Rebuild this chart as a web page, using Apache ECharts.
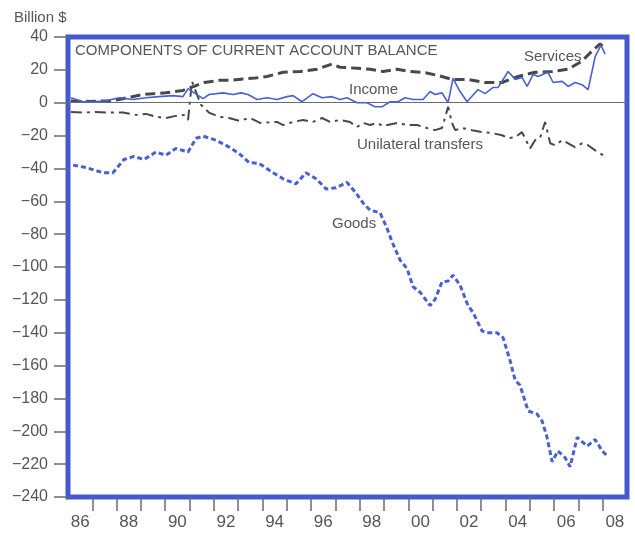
<!DOCTYPE html>
<html>
<head>
<meta charset="utf-8">
<script src="https://cdn.jsdelivr.net/npm/echarts@6/dist/echarts.min.js"></script>
<style>
html,body{margin:0;padding:0;background:#fff;}
#chart{width:635px;height:538px;}
</style>
</head>
<body>
<div id="chart"></div>
<script>
// Tick label text for even years (placed at mid-year)
var labelYears = [1986,1988,1990,1992,1994,1996,1998,2000,2002,2004,2006,2008];
var yearLabels = ['86','88','90','92','94','96','98','00','02','04','06','08'];
// Year boundaries drawn as ticks (inner ones; frame covers 1986 and 2009)
var tickYears = [1987,1988,1989,1990,1991,1992,1993,1994,1995,1996,1997,1998,1999,2000,2001,2002,2003,2004,2005,2006,2007,2008];

// Series: [decimal year, billion $]
var goods = [
  [1986.21,-38],[1986.74,-39.5],[1987.44,-42.6],[1987.85,-42.6],[1988.30,-34.6],[1988.72,-32.7],
  [1989.13,-34.6],[1989.62,-30],[1990.03,-32],[1990.44,-27.8],[1990.94,-30],[1991.27,-21.6],
  [1991.56,-20.4],[1992.09,-22.8],[1992.63,-27],[1993.04,-30.9],[1993.45,-36.4],[1993.86,-37],
  [1994.44,-42.6],[1994.85,-46.3],[1995.38,-49.4],[1995.79,-42.6],[1996.21,-46.3],[1996.62,-52.5],
  [1997.03,-51.8],[1997.48,-48.5],[1997.85,-55],[1998.14,-61],[1998.43,-65.4],[1998.84,-67],
  [1999.13,-76.5],[1999.33,-84.6],[1999.66,-95.7],[1999.95,-101],[2000.20,-112],[2000.49,-115.4],
  [2000.90,-123.5],[2001.10,-119.8],[2001.39,-109],[2001.64,-108.6],[2001.84,-105],[2002.13,-111],
  [2002.46,-123.5],[2002.67,-127.8],[2003.04,-139],[2003.24,-140],[2003.65,-140],[2003.90,-143],
  [2004.19,-157],[2004.40,-169],[2004.60,-172],[2004.93,-187.6],[2005.30,-189.5],[2005.51,-193.8],
  [2005.71,-203.7],[2005.92,-218.5],[2006.16,-212],[2006.45,-216],[2006.66,-221.6],[2006.95,-203.7],
  [2007.36,-209],[2007.69,-205],[2007.98,-212],[2008.18,-214.8]
];

var services = [
  [1986.12,1],[1986.91,0.8],[1987.73,1.2],[1988.10,2],[1988.59,3.5],[1989.09,5],[1990.03,6],
  [1990.73,7.5],[1991.19,10],[1991.60,12.3],[1992.21,13.6],[1992.71,13.6],[1993.20,14.5],
  [1993.70,15],[1994.19,16],[1994.85,18.5],[1995.55,19],[1996.25,20.4],[1996.86,23.5],
  [1997.19,21.6],[1997.89,21],[1998.43,20.4],[1998.96,19],[1999.54,20.4],[2000.07,19],
  [2000.61,18.5],[2001.19,16.7],[2001.80,14.2],[2002.46,14.2],[2003.16,12.3],[2003.86,12.3],
  [2004.52,16],[2005.22,18.5],[2005.92,19],[2006.58,20.4],[2007.15,25.3],[2007.56,31.5],
  [2007.89,35.8],[2008.02,34]
];

var income = [
  [1986.12,3],[1986.62,0.6],[1987.03,0.6],[1987.56,1.2],[1988.10,3],[1988.67,2],[1989.21,3],
  [1989.74,3.7],[1990.32,4.3],[1990.73,3.7],[1990.94,8.6],[1991.19,6],[1991.56,2.5],[1991.80,5],
  [1992.38,6],[1992.79,5],[1993.12,6],[1993.41,5],[1993.78,2],[1994.19,3],[1994.60,2],[1995.01,3.7],
  [1995.26,4.3],[1995.63,0.6],[1996.08,5.5],[1996.45,3],[1996.86,3.7],[1997.19,2],[1997.48,3],
  [1997.89,0],[1998.30,0],[1998.63,-2.5],[1998.92,-2.5],[1999.25,0.6],[1999.58,0.6],[1999.87,3],
  [2000.20,2],[2000.61,2],[2000.90,6.8],[2001.10,5],[2001.39,6],[2001.64,0],[2001.84,14.8],
  [2002.13,6.8],[2002.42,0.6],[2002.87,8],[2003.16,5.5],[2003.49,9.3],[2003.70,9.3],[2004.11,19],
  [2004.40,14.2],[2004.68,15.4],[2004.89,9.9],[2005.14,17.3],[2005.34,16],[2005.75,18.5],
  [2005.96,12.3],[2006.33,13],[2006.58,9.9],[2006.86,12.3],[2007.15,11],[2007.40,8],[2007.69,28],
  [2007.93,35],[2008.10,29.6]
];

var transfers = [
  [1986.12,-5.6],[1986.62,-6],[1987.15,-5.6],[1987.69,-6],[1988.26,-6],[1988.80,-7.4],[1989.21,-6.8],
  [1989.62,-8.6],[1990.03,-9.3],[1990.44,-8],[1990.77,-7.4],[1990.94,-10.5],[1991.10,13],[1991.47,-1.2],
  [1991.80,-6],[1992.21,-8.6],[1992.63,-9.3],[1993.04,-11],[1993.49,-9.3],[1993.90,-12.3],[1994.60,-11.7],
  [1994.85,-13.6],[1995.26,-11.7],[1995.67,-10.5],[1996.08,-11.7],[1996.45,-9.3],[1996.78,-11.7],
  [1997.19,-10.5],[1997.60,-11.7],[1997.89,-14.8],[1998.14,-12.3],[1998.43,-13.6],[1998.72,-12.3],
  [1998.96,-14.2],[1999.54,-12.3],[1999.95,-13.6],[2000.36,-13.6],[2000.77,-15.4],[2001.10,-16.7],
  [2001.39,-15.4],[2001.64,-2.5],[2001.80,-12.3],[2001.93,-16.7],[2002.21,-15.4],[2002.63,-16.7],
  [2003.04,-17.9],[2003.45,-18.5],[2003.86,-19.8],[2004.11,-21.6],[2004.40,-21],[2004.68,-17.9],
  [2005.01,-27.8],[2005.22,-22.8],[2005.42,-21.6],[2005.63,-11.7],[2005.84,-24.7],[2006.04,-25.9],
  [2006.33,-22.8],[2006.58,-24.7],[2006.86,-27],[2007.15,-24.7],[2007.40,-25.9],[2007.69,-29],
  [2008.02,-32]
];

var FONT = "'Liberation Sans', Arial, Helvetica, sans-serif";
var TEXT = '#55555f';
var FRAME = '#4459cc';
var BLUE = '#4a60d2';
var DARK = '#47474f';

var labelValues = labelYears.map(function (y) { return y + 0.5; });

var chart = echarts.init(document.getElementById('chart'), null, {renderer: 'canvas'});

chart.setOption({
  animation: false,
  backgroundColor: '#ffffff',
  textStyle: {fontFamily: FONT},
  grid: {
    left: 68, right: 8, top: 37, bottom: 41,
    show: true, borderColor: FRAME, borderWidth: 5, backgroundColor: 'transparent',
    containLabel: false
  },
  xAxis: {
    type: 'value',
    min: 1986, max: 2009, interval: 1,
    position: 'bottom',
    axisLine: {show: false, onZero: false},
    axisTick: {show: true, customValues: tickYears, length: 14, lineStyle: {color: '#6a6a72', width: 1.5}},
    axisLabel: {
      customValues: labelValues, margin: 17, fontSize: 17, color: TEXT, fontFamily: FONT,
      showMinLabel: true, showMaxLabel: true,
      formatter: function (v) {
        var i = labelValues.indexOf(v);
        return i >= 0 ? yearLabels[i] : '';
      }
    },
    splitLine: {show: false}
  },
  yAxis: {
    type: 'value',
    min: -240, max: 40, interval: 20,
    axisLine: {show: false},
    axisTick: {show: true, length: 14, lineStyle: {color: '#6a6a72', width: 1.5}},
    axisLabel: {
      margin: 20, fontSize: 16, color: TEXT, fontFamily: FONT,
      formatter: function (v) { return String(v).replace('-', '\u2212'); }
    },
    splitLine: {show: false}
  },
  series: [
    {
      name: 'Goods', type: 'line', data: goods,
      showSymbol: false, symbol: 'none',
      lineStyle: {color: BLUE, width: 3, type: [5, 3]},
      markLine: {
        silent: true, symbol: ['none', 'none'], label: {show: false},
        lineStyle: {color: '#6a6a72', width: 1.2, type: 'solid'},
        data: [{yAxis: 0}]
      },
      z: 3
    },
    {
      name: 'Unilateral transfers', type: 'line', data: transfers,
      showSymbol: false, symbol: 'none',
      lineStyle: {color: DARK, width: 2, type: [11, 5, 3, 5]},
      z: 3
    },
    {
      name: 'Services', type: 'line', data: services,
      showSymbol: false, symbol: 'none',
      lineStyle: {color: DARK, width: 3, type: [10, 5]},
      z: 4
    },
    {
      name: 'Income', type: 'line', data: income,
      showSymbol: false, symbol: 'none',
      lineStyle: {color: BLUE, width: 1.6, type: 'solid'},
      z: 5
    }
  ],
  graphic: [
    {type: 'text', left: 14, top: 10, style: {text: 'Billion $', fontSize: 15, fill: TEXT, fontFamily: FONT}},
    {type: 'text', left: 75, top: 43, style: {text: 'COMPONENTS OF CURRENT ACCOUNT BALANCE', fontSize: 15, fill: TEXT, fontFamily: FONT}},
    {type: 'text', left: 524, top: 49, style: {text: 'Services', fontSize: 15, fill: TEXT, fontFamily: FONT}},
    {type: 'text', left: 349, top: 82, style: {text: 'Income', fontSize: 15, fill: TEXT, fontFamily: FONT}},
    {type: 'text', left: 357, top: 137, style: {text: 'Unilateral transfers', fontSize: 15, fill: TEXT, fontFamily: FONT}},
    {type: 'text', left: 332, top: 216, style: {text: 'Goods', fontSize: 15, fill: TEXT, fontFamily: FONT}}
  ]
});
</script>
</body>
</html>
